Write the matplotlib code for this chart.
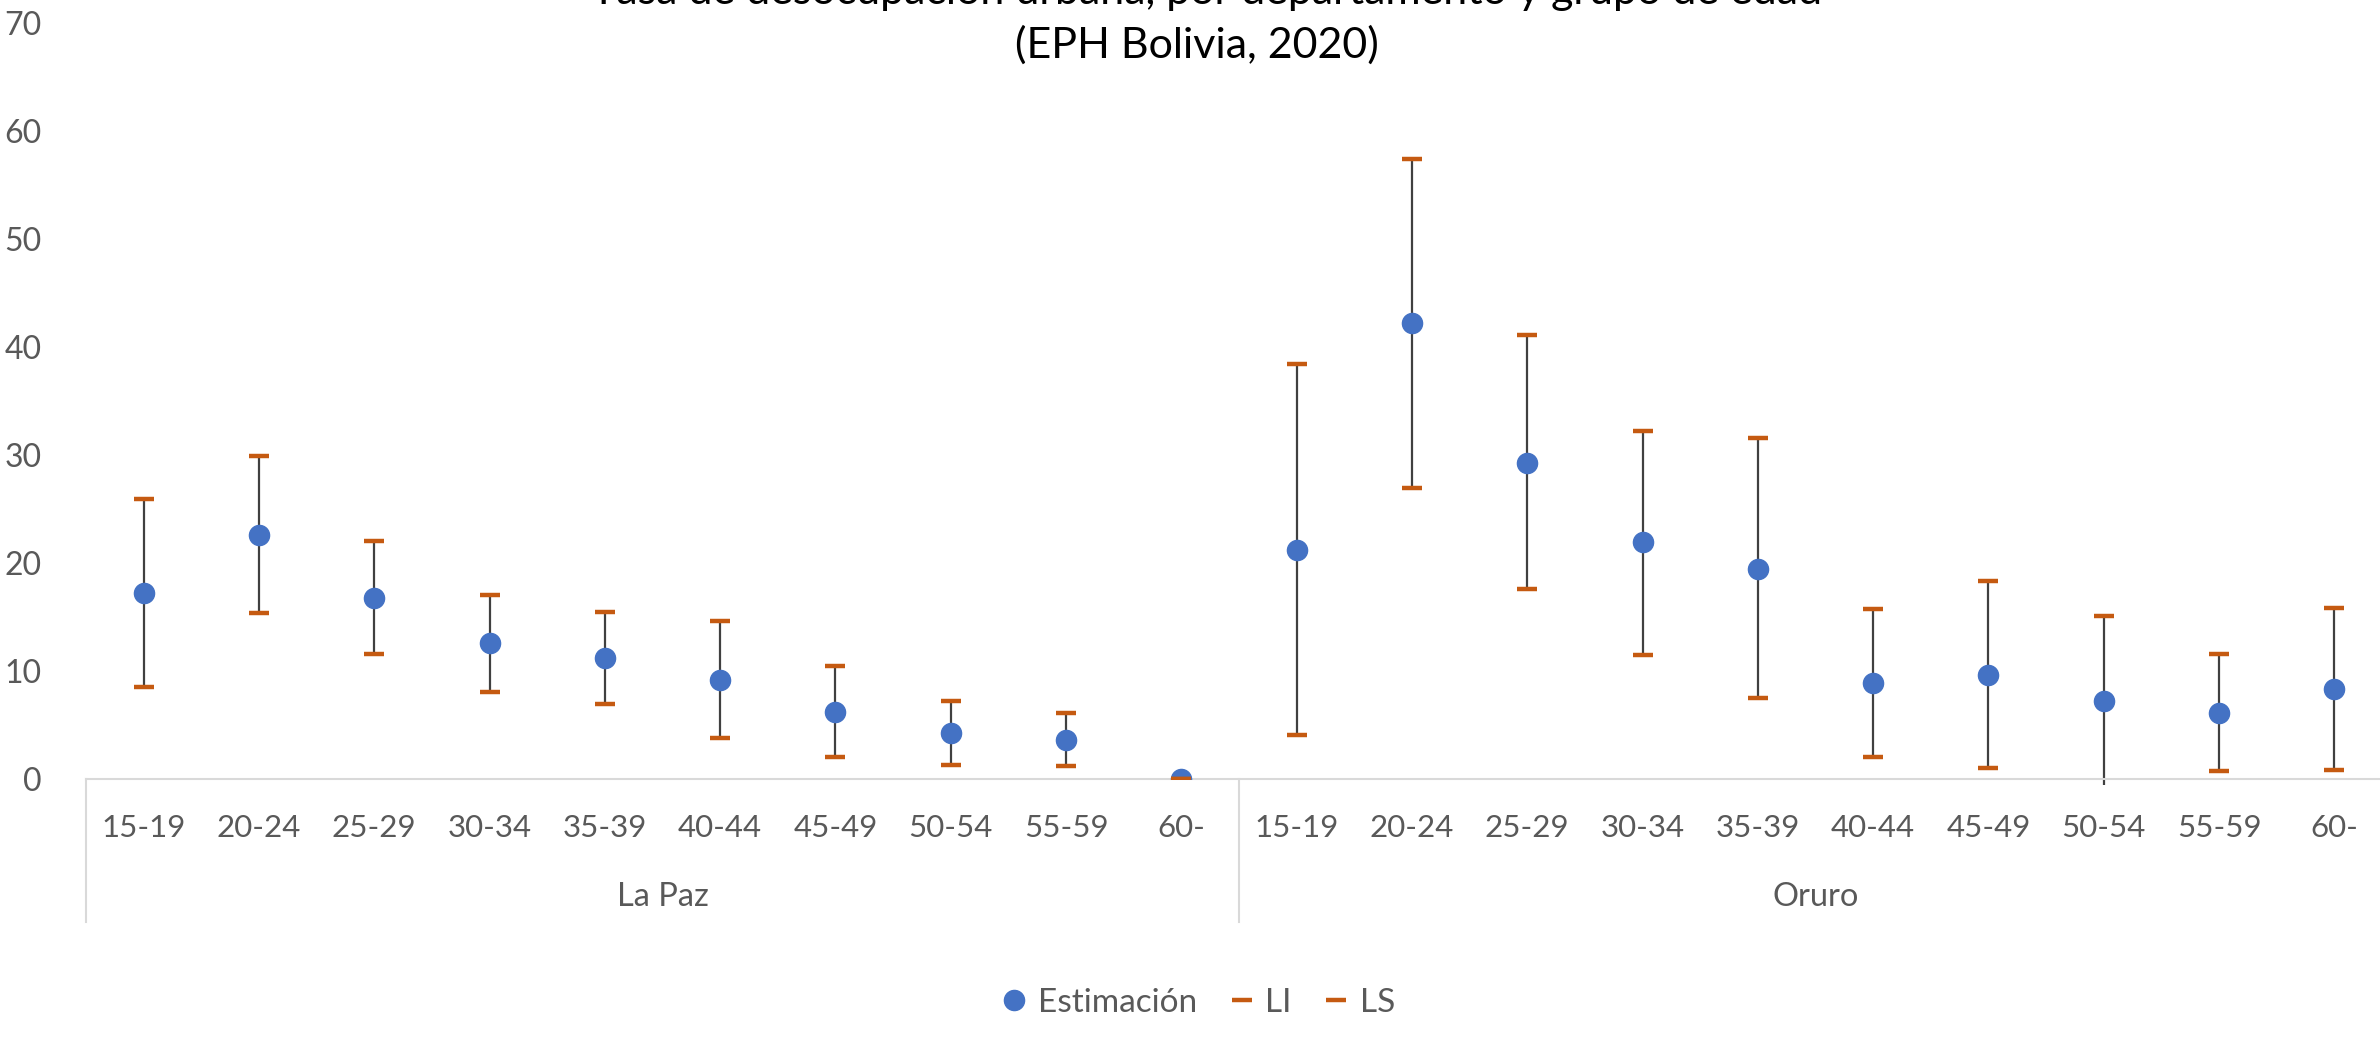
import numpy as np
import matplotlib
matplotlib.use("Agg")
import matplotlib.pyplot as plt
from matplotlib.lines import Line2D
import matplotlib.transforms as mtransforms

plt.rcParams['font.family'] = ['Lato', 'DejaVu Sans']

# datos
grupos = ['La Paz', 'Oruro']
edades = ['15-19', '20-24', '25-29', '30-34', '35-39', '40-44', '45-49', '50-54', '55-59', '60-']

est_lapaz = [17.2, 22.6, 16.8, 12.6, 11.2, 9.2, 6.2, 4.3, 3.6, 0.0]
li_lapaz = [8.5, 15.4, 11.6, 8.1, 6.9, 3.8, 2.0, 1.3, 1.2, 0.0]
ls_lapaz = [25.9, 29.9, 22.0, 17.0, 15.5, 14.6, 10.5, 7.2, 6.1, 0.0]

est_oruro = [21.2, 42.2, 29.3, 21.9, 19.4, 8.9, 9.6, 7.2, 6.1, 8.3]
li_oruro = [4.1, 26.9, 17.6, 11.5, 7.5, 2.0, 1.0, -0.6, 0.7, 0.8]
ls_oruro = [38.4, 57.4, 41.1, 32.2, 31.6, 15.7, 18.3, 15.1, 11.6, 15.8]

estimacion = np.array(est_lapaz + est_oruro)
li = np.array(li_lapaz + li_oruro)
ls = np.array(ls_lapaz + ls_oruro)
x = np.arange(len(estimacion))

azul = '#4472C4'
naranja = '#C55A11'
gris = '#595959'

fig = plt.figure(figsize=(23.8, 10.38), dpi=100)
W, H = 2380, 1038
ax = fig.add_axes([86 / W, (H - 779) / H, (2392 - 86) / W, (779 - 23) / H])

# lineas entre LI y LS
ax.vlines(x, li, ls, color='#404040', linewidth=1.6, zorder=2, clip_on=False)
ax.plot(x, estimacion, 'o', color=azul, markersize=14.5, zorder=3)
ax.plot(x, li, '_', color=naranja, markersize=14, markeredgewidth=3.2, zorder=4)
ax.plot(x, ls, '_', color=naranja, markersize=14, markeredgewidth=3.2, zorder=4)

ax.set_xlim(-0.5, len(x) - 0.5)
ax.set_ylim(0, 70)
ax.set_yticks(range(0, 71, 10))
ax.tick_params(axis='y', length=0, pad=32, labelsize=23, labelcolor=gris)
ax.set_xticks([])
for s in ['top', 'right', 'left']:
    ax.spines[s].set_visible(False)
ax.spines['bottom'].set_color('#D9D9D9')
ax.spines['bottom'].set_linewidth(1.5)

# eje de categorias con dos niveles
trans = mtransforms.blended_transform_factory(ax.transData, ax.transAxes)
for i, xi in enumerate(x):
    ax.text(xi, -0.065, edades[i % len(edades)], transform=trans, ha='center', va='center',
            fontsize=22.5, color=gris)
for g, nombre in enumerate(grupos):
    centro = g * len(edades) + (len(edades) - 1) / 2
    ax.text(centro, -0.156, nombre, transform=trans, ha='center', va='center',
            fontsize=23.5, color=gris)
for sep in [-0.5, len(edades) - 0.5, len(x) - 0.5]:
    ax.plot([sep, sep], [0, -0.189], transform=trans, color='#D9D9D9', linewidth=1.5, clip_on=False)

# titulo (la primera linea queda cortada arriba)
fig.text(0.507, 1 - 4 / H, 'Tasa de desocupación urbana, por departamento y grupo de edad',
         ha='center', va='baseline', fontsize=31, color='black')
fig.text(0.503, 1 - 58 / H, '(EPH Bolivia, 2020)', ha='center', va='baseline', fontsize=31, color='black')

handles = [
    Line2D([], [], marker='o', linestyle='none', color=azul, markersize=14.5),
    Line2D([], [], marker='_', linestyle='none', color=naranja, markersize=14, markeredgewidth=3.2),
    Line2D([], [], marker='_', linestyle='none', color=naranja, markersize=14, markeredgewidth=3.2),
]
leg = fig.legend(handles, ['Estimación', 'LI', 'LS'], loc='center', bbox_to_anchor=(0.503, 35 / H),
                 ncol=3, frameon=False, fontsize=24, handletextpad=0.25, columnspacing=0.9,
                 handlelength=0.9)
for t in leg.get_texts():
    t.set_color(gris)

fig.savefig('out.png', dpi=100)
